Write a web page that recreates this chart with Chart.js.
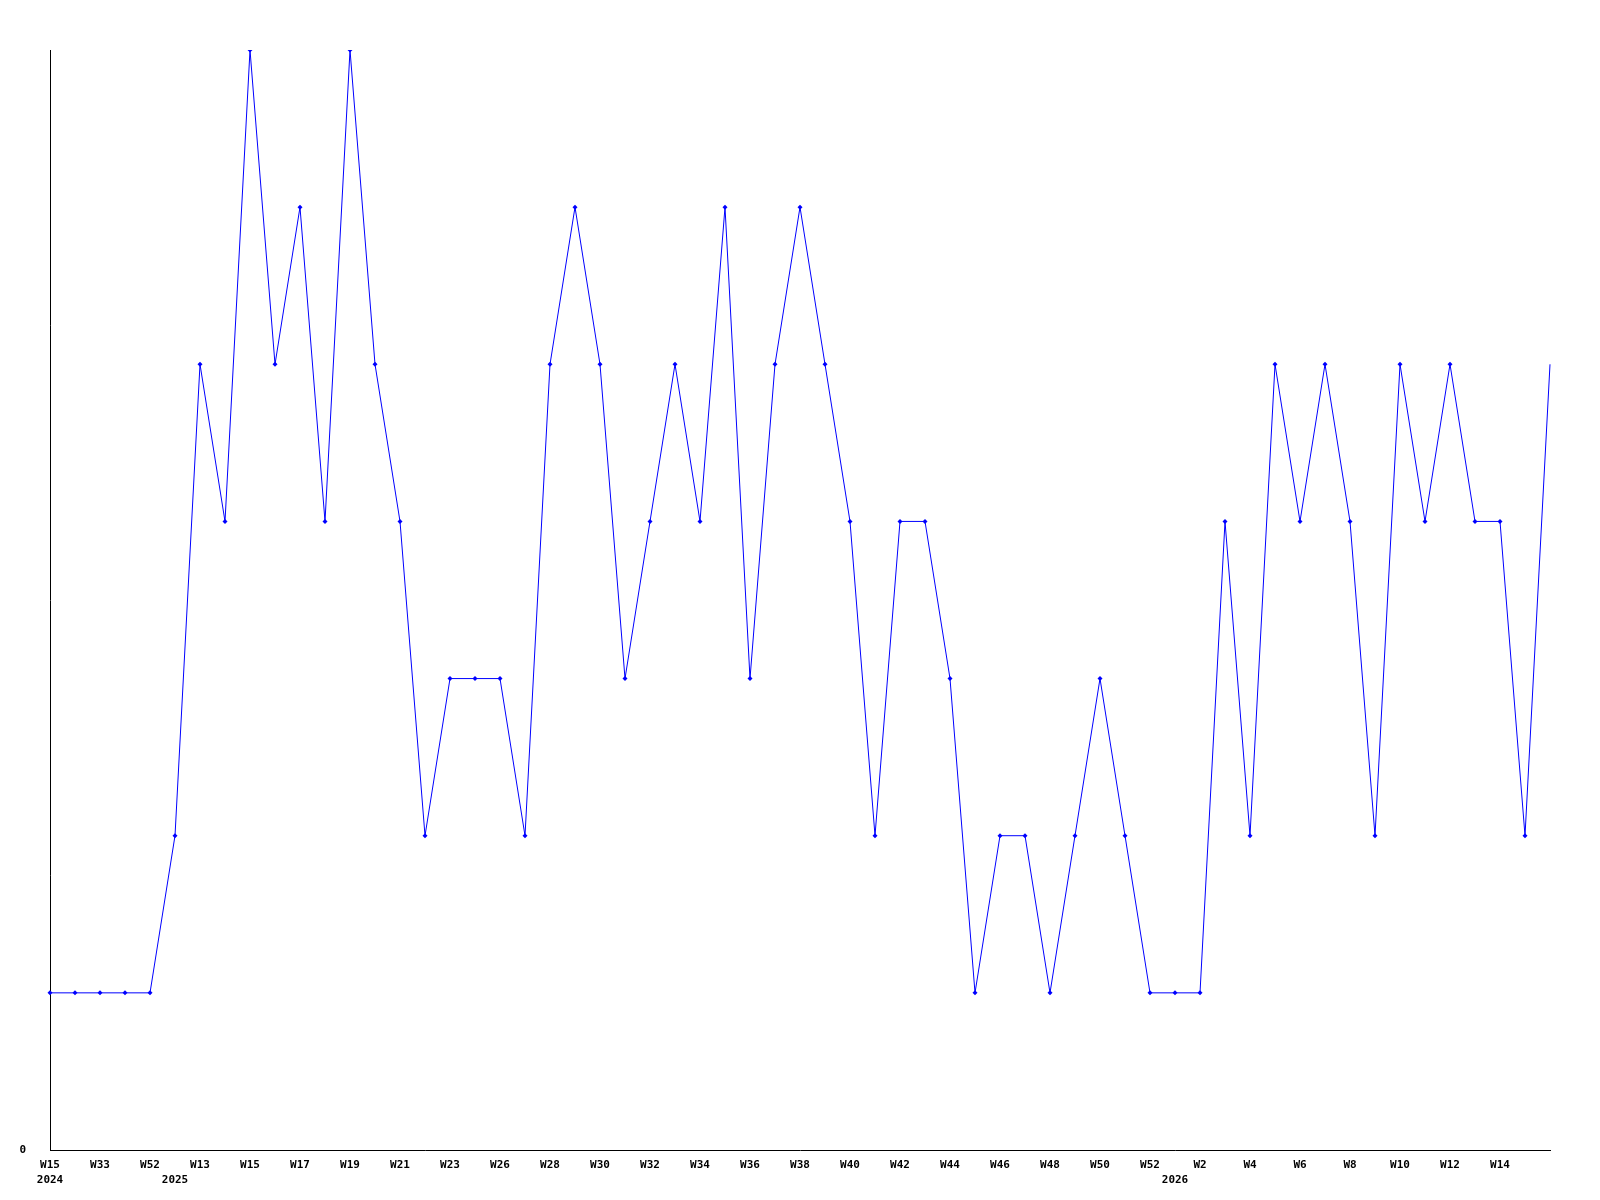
<!DOCTYPE html>
<html>
<head>
<meta charset="utf-8">
<script src="https://cdn.jsdelivr.net/npm/chart.js@4/dist/chart.umd.min.js"></script>
<style>
  html, body { margin: 0; padding: 0; background: #fff; }
  #wrap { width: 1600px; height: 1200px; position: relative; }
</style>
</head>
<body>
<div id="wrap"><canvas id="chart"></canvas></div>
<script>
'use strict'

/* ------------------------------ Data ------------------------------ */

// one point per week, oldest first
const weeks = [
  'W15', 'W24', 'W33', 'W40', 'W52', 'W1', 'W13', 'W14', 'W15', 'W16',
  'W17', 'W18', 'W19', 'W20', 'W21', 'W22', 'W23', 'W24', 'W26', 'W27',
  'W28', 'W29', 'W30', 'W31', 'W32', 'W33', 'W34', 'W35', 'W36', 'W37',
  'W38', 'W39', 'W40', 'W41', 'W42', 'W43', 'W44', 'W45', 'W46', 'W47',
  'W48', 'W49', 'W50', 'W51', 'W52', 'W1', 'W2', 'W3', 'W4', 'W5',
  'W6', 'W7', 'W8', 'W9', 'W10', 'W11', 'W12', 'W13', 'W14', 'W15',
  'W16'
]

const counts = [
  1, 1, 1, 1, 1, 2, 5, 4, 7, 5,
  6, 4, 7, 5, 4, 2, 3, 3, 3, 2,
  5, 6, 5, 3, 4, 5, 4, 6, 3, 5,
  6, 5, 4, 2, 4, 4, 3, 1, 2, 2,
  1, 2, 3, 2, 1, 1, 1, 4, 2, 5,
  4, 5, 4, 2, 5, 4, 5, 4, 4, 2,
  5
]

// second tick line, where a new year starts
const yearIndex = [0, 5, 45]
const yearText = ['2024', '2025', '2026']

const yMax = 7

/* ------------------------------ Chart ------------------------------ */

const tickFont = { family: "'DejaVu Sans Mono', monospace", size: 11, weight: 'bold', lineHeight: 1.4 }

// every other week gets a label, the last (running) week none
function xTickLabel (value, index) {
  const showWeek = index % 2 === 0 && index < weeks.length - 1
  const lines = [showWeek ? weeks[index] : '']
  const y = yearIndex.indexOf(index)
  if (y >= 0) lines.push(yearText[y])
  return lines.length === 1 ? lines[0] : lines
}

const ctx = document.getElementById('chart').getContext('2d')

new Chart(ctx, {
  type: 'line',
  data: {
    labels: weeks,
    datasets: [{
      data: counts,
      borderColor: '#0000ff',
      backgroundColor: '#0000ff',
      borderWidth: 1,
      tension: 0,
      pointStyle: 'rectRot',
      pointRadius: counts.map((v, i) => i === counts.length - 1 ? 0 : 2.5),
      pointBorderWidth: 0,
      fill: false
    }]
  },
  options: {
    responsive: true,
    maintainAspectRatio: false,
    animation: false,
    layout: { padding: { top: 50, right: 50, left: 0, bottom: 0 } },
    plugins: {
      legend: { display: false },
      tooltip: { enabled: false }
    },
    scales: {
      x: {
        offset: false,
        grid: { display: false, drawTicks: false },
        border: { display: true, color: '#000', width: 1 },
        ticks: {
          autoSkip: false,
          maxRotation: 0,
          minRotation: 0,
          padding: 7,
          color: '#000',
          font: tickFont,
          callback: xTickLabel
        },
        afterFit: scale => { scale.height = 50 }
      },
      y: {
        min: 0,
        max: yMax,
        grid: { display: false, drawTicks: false },
        border: { display: true, color: '#000', width: 1 },
        ticks: {
          stepSize: 1,
          padding: 24,
          color: '#000',
          font: tickFont,
          callback: v => v === 0 ? '0' : ''
        },
        afterFit: scale => { scale.width = 50 }
      }
    }
  }
})
</script>
</body>
</html>
